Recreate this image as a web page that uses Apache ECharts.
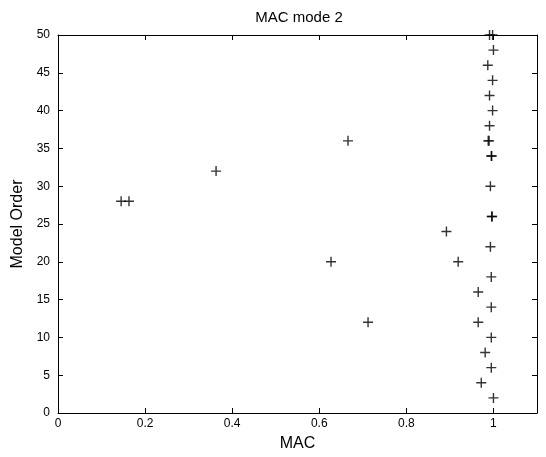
<!DOCTYPE html>
<html>
<head>
<meta charset="utf-8">
<script src="https://cdn.jsdelivr.net/npm/echarts@6/dist/echarts.min.js"></script>
<style>
  html, body { margin: 0; padding: 0; background: #fff; }
  #chart { width: 546px; height: 457px; }
</style>
</head>
<body>
<div id="chart"></div>
<script>
// MAC value per point, and its model order
var macValues = [0.991, 0.998, 1.0, 0.987, 0.998, 0.991, 0.998, 0.991,
  0.988, 0.990, 0.666, 0.995, 0.996, 0.363, 0.993, 0.145, 0.163, 0.996, 0.997,
  0.892, 0.993, 0.919, 0.627, 0.995, 0.965, 0.995, 0.965, 0.712, 0.995, 0.981,
  0.995, 0.972, 1.0];
var modelOrders = [50, 50, 48, 46, 44, 42, 40, 38,
  36, 36, 36, 34, 34, 32, 30, 28, 28, 26, 26,
  24, 22, 20, 20, 18, 16, 14, 12, 12, 10, 8,
  6, 4, 2];

var points = macValues.map(function (v, i) { return [v, modelOrders[i]]; });

var font = 'Liberation Sans, Arial, sans-serif';
var plus = 'path://M0,4.3L10,4.3L10,5.7L0,5.7Z M4.3,0L5.7,0L5.7,10L4.3,10Z';

// box axes (top / right) only carry ticks, like a matlab "box on"
function boxAxis(opt) {
  return Object.assign({
    type: 'value',
    axisLine: { show: true, onZero: false, lineStyle: { color: '#000', width: 1 } },
    axisTick: { show: true, inside: true, length: 5, lineStyle: { color: '#000' } },
    axisLabel: { show: false },
    splitLine: { show: false }
  }, opt);
}

var myChart = echarts.init(document.getElementById('chart'));
myChart.setOption({
  animation: false,
  backgroundColor: '#fff',
  title: {
    text: 'MAC mode 2',
    left: 294,
    textAlign: 'center',
    top: 5,
    textStyle: { fontFamily: font, fontSize: 15, fontWeight: 'normal', color: '#000' }
  },
  grid: { left: 58, right: 9, top: 35, bottom: 44 },
  xAxis: [
    {
      type: 'value', min: 0, max: 1.1, interval: 0.2,
      name: 'MAC', nameLocation: 'middle', nameGap: 23,
      nameTextStyle: { fontFamily: font, fontSize: 16, color: '#000' },
      axisLine: { show: true, onZero: false, lineStyle: { color: '#000', width: 1 } },
      axisTick: { show: true, inside: true, length: 5, lineStyle: { color: '#000' } },
      axisLabel: { showMaxLabel: false, fontFamily: font, fontSize: 12, color: '#000', margin: 5 },
      splitLine: { show: false }
    },
    boxAxis({ min: 0, max: 1.1, interval: 0.2, position: 'top' })
  ],
  yAxis: [
    {
      type: 'value', min: 0, max: 50, interval: 5,
      name: 'Model Order', nameLocation: 'middle', nameGap: 31,
      nameTextStyle: { fontFamily: font, fontSize: 16, color: '#000' },
      axisLine: { show: true, onZero: false, lineStyle: { color: '#000', width: 1 } },
      axisTick: { show: true, inside: true, length: 5, lineStyle: { color: '#000' } },
      axisLabel: { fontFamily: font, fontSize: 12, color: '#000', margin: 8 },
      splitLine: { show: false }
    },
    boxAxis({ min: 0, max: 50, interval: 5, position: 'right' })
  ],
  series: [
    {
      type: 'scatter',
      xAxisIndex: 0,
      yAxisIndex: 0,
      data: points,
      symbol: plus,
      symbolSize: 10,
      clip: false,
      itemStyle: { color: '#000' }
    }
  ]
});
</script>
</body>
</html>
